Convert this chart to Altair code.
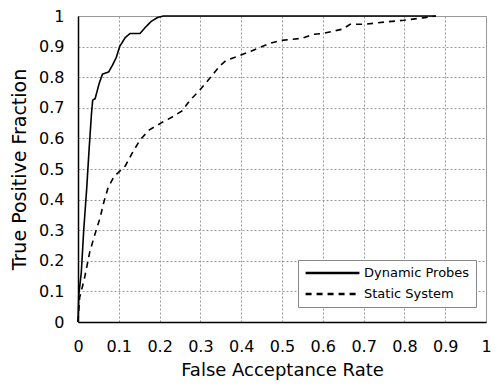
import altair as alt
import pandas as pd

dyn_x = [0, 0.002, 0.008, 0.014, 0.021, 0.027, 0.033, 0.036, 0.042, 0.052, 0.06, 0.075,
         0.084, 0.094, 0.102, 0.116, 0.128, 0.152, 0.165, 0.18, 0.195, 0.21, 0.877]
dyn_y = [0, 0.09, 0.16, 0.30, 0.43, 0.56, 0.68, 0.725, 0.73, 0.78, 0.81, 0.817,
         0.838, 0.865, 0.90, 0.93, 0.943, 0.943, 0.963, 0.983, 0.995, 1.0, 1.0]

sta_x = [0, 0.004, 0.008, 0.017, 0.029, 0.04, 0.054, 0.063, 0.074, 0.088, 0.1, 0.116,
         0.132, 0.152, 0.175, 0.203, 0.231, 0.255, 0.275, 0.298, 0.322, 0.346, 0.362,
         0.394, 0.425, 0.469, 0.497, 0.548, 0.576, 0.6, 0.624, 0.648, 0.667, 0.703,
         0.75, 0.798, 0.846, 0.877]
sta_y = [0, 0.08, 0.10, 0.15, 0.23, 0.28, 0.34, 0.39, 0.44, 0.475, 0.49, 0.51,
         0.55, 0.595, 0.628, 0.65, 0.67, 0.69, 0.725, 0.757, 0.795, 0.834, 0.854,
         0.87, 0.886, 0.91, 0.92, 0.927, 0.94, 0.943, 0.95, 0.957, 0.973, 0.973,
         0.98, 0.986, 0.994, 1.0]

series = ["Dynamic Probes", "Static System"]
ticks = [0, 0.1, 0.2, 0.3, 0.4, 0.5, 0.6, 0.7, 0.8, 0.9, 1]

rows = []
for i, (x, y) in enumerate(zip(dyn_x, dyn_y)):
    rows.append({"s": series[0], "x": x, "y": y, "o": i})
for i, (x, y) in enumerate(zip(sta_x, sta_y)):
    rows.append({"s": series[1], "x": x, "y": y, "o": i})
df = pd.DataFrame(rows)

font = "DejaVu Sans"

chart = alt.Chart(df).mark_line(color="black", strokeWidth=1.6).encode(
    x=alt.X("x:Q", scale=alt.Scale(domain=[0, 1], nice=False),
            axis=alt.Axis(values=ticks, format="~g", title="False Acceptance Rate",
                          labelPadding=16, titlePadding=7, labelFontSize=16,
                          titleFontSize=18, labelFlush=False, labelOverlap=False,
                          labelBound=False)),
    y=alt.Y("y:Q", scale=alt.Scale(domain=[0, 1], nice=False),
            axis=alt.Axis(values=ticks, format="~g", title="True Positive Fraction",
                          labelPadding=14, titlePadding=9, labelFontSize=16,
                          titleFontSize=19, labelFlush=False, labelOverlap=False)),
    strokeDash=alt.StrokeDash("s:N", scale=alt.Scale(domain=series, range=[[1, 0], [6, 5]]),
                              legend=alt.Legend(title=None, orient="none", legendX=220,
                                                legendY=244, symbolType="stroke",
                                                symbolSize=2900, symbolStrokeWidth=2.5,
                                                symbolStrokeColor="black",
                                                clipHeight=14,
                                                labelFontSize=13, labelFont=font,
                                                labelColor="black", labelOffset=3,
                                                rowPadding=7, padding=6,
                                                fillColor="white", strokeColor="#888")),
    order="o:Q",
).properties(
    width=408, height=306,
    autosize=alt.AutoSizeParams(type="none"),
    padding={"left": 70, "top": 8, "right": 6, "bottom": 60},
).configure_axis(
    grid=True, gridColor="#999", gridDash=[2, 2], gridWidth=1,
    ticks=False, domainColor="black", domainWidth=1.5,
    labelFont=font, titleFont=font, labelColor="black", titleColor="black",
    titleFontWeight="normal",
).configure_view(stroke="#999", strokeWidth=1)

chart.save("out.html", embed_options={"renderer": "svg", "actions": False})
